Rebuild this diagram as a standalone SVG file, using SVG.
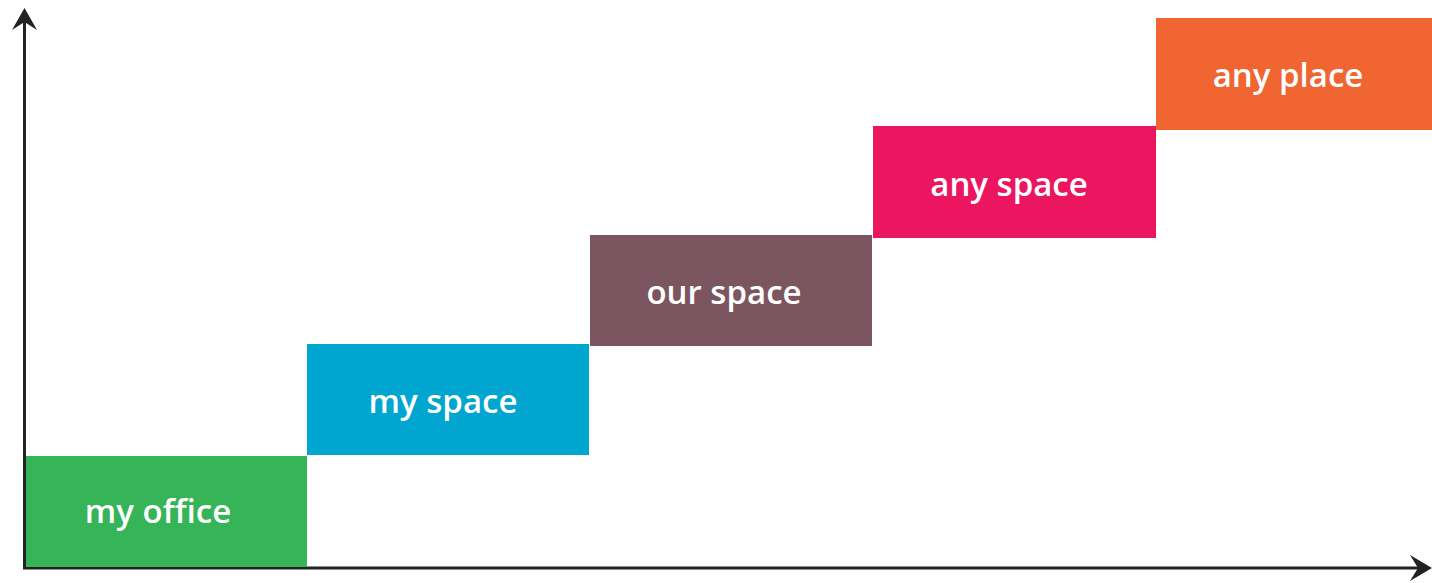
<svg xmlns="http://www.w3.org/2000/svg" width="1432" height="583" viewBox="0 0 1432 583">
<style>
.lbl{font-family:"Open Sans","Noto Sans",sans-serif;font-size:33px;font-weight:600;fill:#ffffff;text-anchor:middle}
.axis{stroke:#222222;stroke-width:3;fill:none}
.head{fill:#222222}
</style>
<rect width="1432" height="583" fill="#ffffff"/>
<g id="connectors">
<line class="axis" x1="24.5" y1="20" x2="24.5" y2="568"/>
<line class="axis" x1="23" y1="568" x2="1422" y2="568"/>
<path class="head" d="M24.5,8 L37,30 L24.5,22 L12,30 Z"/>
<path class="head" d="M1432,568 L1410,555 L1418,568 L1410,581 Z"/>
</g>
<g id="my-office">
<rect x="26" y="456" width="281" height="111" fill="#36b458"/>
<text class="lbl" x="158" y="523">my office</text>
</g>
<g id="my-space">
<rect x="307" y="344" width="282" height="111" fill="#00a6d0"/>
<text class="lbl" x="443" y="413">my space</text>
</g>
<g id="our-space">
<rect x="590" y="235" width="282" height="111" fill="#7b5660"/>
<text class="lbl" x="724" y="304">our space</text>
</g>
<g id="any-space">
<rect x="873" y="126" width="283" height="112" fill="#ec1560"/>
<text class="lbl" x="1009" y="196">any space</text>
</g>
<g id="any-place">
<rect x="1156" y="18" width="276" height="112" fill="#f06532"/>
<text class="lbl" x="1288" y="87">any place</text>
</g>
</svg>
